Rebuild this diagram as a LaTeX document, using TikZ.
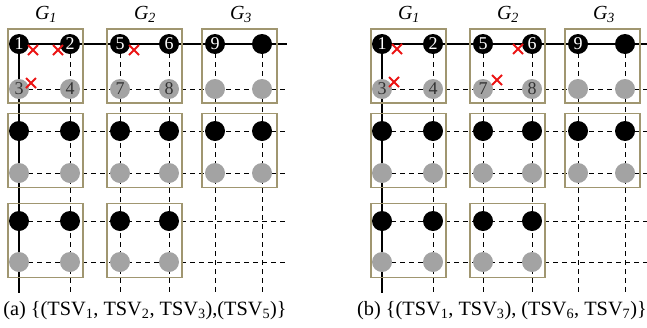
\documentclass[tikz,border=0pt]{standalone}
\usepackage{fontspec}
\setmainfont{Liberation Serif}
\pgfdeclarelayer{bg}
\pgfsetlayers{bg,main}
\definecolor{tsvgray}{RGB}{163,163,163}
\definecolor{boxcol}{RGB}{160,150,112}
\definecolor{xred}{RGB}{235,20,20}
\begin{document}
\begin{tikzpicture}[x=1pt,y=-1pt,
  tsv/.style={circle,fill=black,minimum size=20pt,inner sep=0pt,text=white,font=\fontsize{18}{18}\selectfont},
  gtsv/.style={circle,fill=tsvgray,minimum size=20pt,inner sep=0pt,text={black!80},font=\fontsize{18}{18}\selectfont},
  grp/.style={draw=boxcol,line width=1.1pt,minimum width=75pt,minimum height=74pt,inner sep=0pt},
  dline/.style={dash pattern=on 5pt off 4pt,line width=1pt},
  sline/.style={line width=2pt},
  xmark/.style={xred,line width=2pt},
  glabel/.style={font=\fontsize{20}{20}\selectfont},
  caption/.style={font=\fontsize{20.3}{20.3}\selectfont,anchor=base}]
\useasboundingbox (0,0) rectangle (647,327);
\foreach \p/\o in {a/0,b/363}{
  % group boxes
  \foreach \g/\gx in {1/45.5,2/144.5,3/239.5}{
    \node[grp] (\p-G1\g) at (\gx+\o,66) {};
    \node[grp] (\p-G2\g) at (\gx+\o,150.5) {};
  }
  \node[grp] (\p-G31) at (45.5+\o,240.5) {};
  \node[grp] (\p-G32) at (144.5+\o,240.5) {};
  % TSV nodes
  \foreach \c/\x/\ta/\tb in {1/19/1/3,2/70/2/4,3/120/5/7,4/169/6/8,5/215/9/{},6/262/{}/{}}{
    \node[tsv] (\p-1-\c) at (\x+\o,44) {\ta};
    \node[gtsv] (\p-2-\c) at (\x+\o,89) {\tb};
    \node[tsv] (\p-3-\c) at (\x+\o,131) {};
    \node[gtsv] (\p-4-\c) at (\x+\o,173) {};
    \coordinate (\p-S\c) at (\x+\o,293);
  }
  \foreach \c/\x in {1/19,2/70,3/120,4/169}{
    \node[tsv] (\p-5-\c) at (\x+\o,221) {};
    \node[gtsv] (\p-6-\c) at (\x+\o,262) {};
  }
  \foreach \r/\y in {1/44,2/89,3/131,4/173,5/221,6/262}{
    \coordinate (\p-E\r) at (287+\o,\y);
  }
  % group labels
  \node[glabel] (\p-L1) at (46+\o,14) {\textit{G}\textsubscript{\textit{1}}};
  \node[glabel] (\p-L2) at (145+\o,14) {\textit{G}\textsubscript{\textit{2}}};
  \node[glabel] (\p-L3) at (241+\o,14) {\textit{G}\textsubscript{\textit{3}}};
  % wires
  \begin{pgfonlayer}{bg}
    \draw[sline] (\p-1-1.center) -- (\p-E1);
    \draw[sline] (\p-1-1.center) -- (\p-S1);
    \foreach \r in {2,...,6}{ \draw[dline] (\p-\r-1.center) -- (\p-E\r); }
    \foreach \c in {2,...,6}{ \draw[dline] (\p-1-\c.center) -- (\p-S\c); }
  \end{pgfonlayer}
}
% red crosses
\foreach \mx/\my in {33/50,58/50,134/50,31/83,397/49,394/82,497/80,518/49}{
  \draw[xmark] (\mx-5,\my-5) -- (\mx+5,\my+5) (\mx-5,\my+5) -- (\mx+5,\my-5);
}
% captions
\node[caption] (capa) at (145,315) {(a)\ \{(TSV\textsubscript{1}, TSV\textsubscript{2}, TSV\textsubscript{3}),(TSV\textsubscript{5})\}};
\node[caption] (capb) at (502,315) {(b)\ \{(TSV\textsubscript{1}, TSV\textsubscript{3}), (TSV\textsubscript{6}, TSV\textsubscript{7})\}};
\end{tikzpicture}
\end{document}
